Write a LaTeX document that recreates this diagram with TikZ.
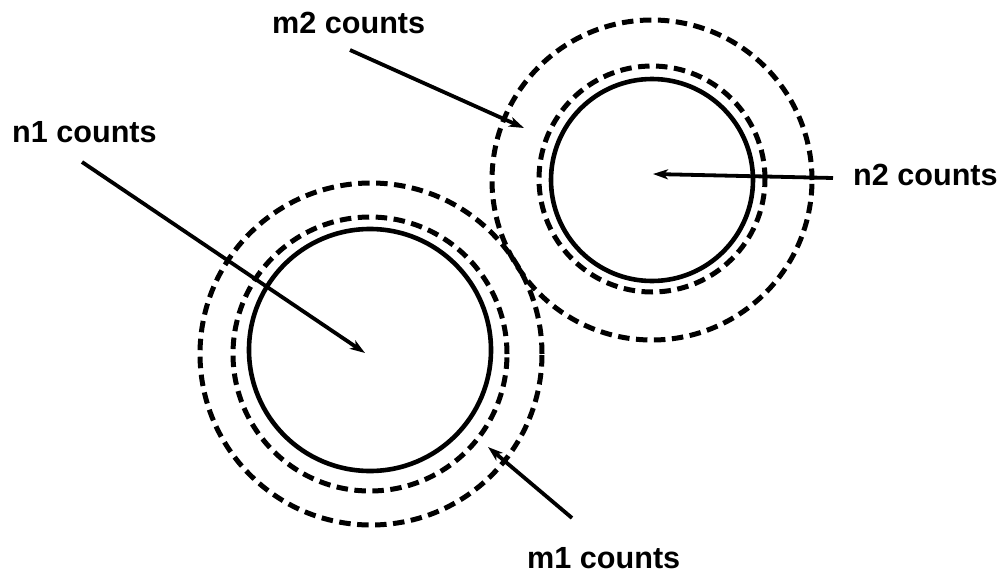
\documentclass[tikz,border=0pt]{standalone}
\usepackage{fontspec}
\setmainfont{Liberation Sans}
\usetikzlibrary{arrows.meta}

\begin{document}
\begin{tikzpicture}[
  x=1pt,y=-1pt,
  ring/.style={draw,circle,line width=4.6pt,inner sep=0pt},
  dashring/.style={ring,line width=5pt,dash pattern=on 11.5pt off 6.5pt},
  countlabel/.style={font=\fontsize{30.6}{34}\selectfont\bfseries,anchor=base west,inner sep=0pt},
  arrow/.style={-{Stealth[length=15pt,width=10pt,inset=4pt]},line width=3.8pt}
]
\useasboundingbox (0,0) rectangle (1005,576);
% lower left region
\node[ring,minimum size=242pt] (solidA) at (370,350) {};
\node[dashring,minimum size=274pt] (innerA) at (370,354) {};
\node[dashring,minimum size=342pt] (outerA) at (371,354) {};
% upper right region
\node[ring,minimum size=202pt] (solidB) at (652,180) {};
\node[dashring,minimum size=226pt] (innerB) at (652,179) {};
\node[dashring,minimum size=320pt] (outerB) at (652,180) {};
% labels
\node[countlabel] (n1) at (12,142) {n1 counts};
\node[countlabel] (m2) at (272,33) {m2 counts};
\node[countlabel] (n2) at (853,185) {n2 counts};
\node[countlabel] (m1) at (527,568) {m1 counts};
% arrow ends
\coordinate (n1tail) at (82,162);
\coordinate (n1tip) at (365,353);
\coordinate (m2tail) at (350,50);
\coordinate (m2tip) at (524,128);
\coordinate (n2tail) at (833,178);
\coordinate (n2tip) at (653,174);
\coordinate (m1tail) at (572,518);
\coordinate (m1tip) at (488,447);
\draw[arrow] (n1tail) -- (n1tip);
\draw[arrow] (m2tail) -- (m2tip);
\draw[arrow] (n2tail) -- (n2tip);
\draw[arrow] (m1tail) -- (m1tip);
\end{tikzpicture}
\end{document}
